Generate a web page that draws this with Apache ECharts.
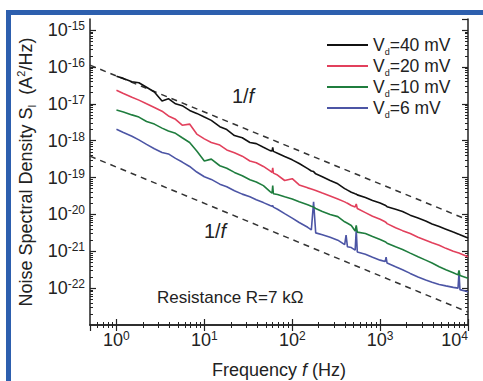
<!DOCTYPE html>
<html>
<head>
<meta charset="utf-8">
<script src="https://cdn.jsdelivr.net/npm/echarts@6/dist/echarts.min.js"></script>
<style>
html,body{margin:0;padding:0;background:#fff;}
#frame{position:absolute;left:6px;top:10px;width:477px;height:371px;border-left:5px solid #2d5fae;border-top:5px solid #2d5fae;box-sizing:border-box;}
#chart{position:absolute;left:0;top:0;width:483px;height:381px;}
</style>
</head>
<body>
<div id="frame"></div>
<div id="chart"></div>
<script>
// ---- data ----
const freqHz = [1,1.2,1.5,1.8,2.2,2.7,3.3,3.9,4.7,5.6,6.8,8.2,
  10,12,15,18,22,27,33,39,47,56,59,60,61,68,82,
  100,120,150,165,175,185,220,270,330,395,410,425,470,520,535,550,680,820,
  1000,1140,1170,1200,1500,1800,2200,2700,3300,3900,4700,5600,6800,7700,7900,8100,
  10000];
const sd40mV = [5.62e-17,4.90e-17,3.98e-17,3.72e-17,2.82e-17,2.09e-17,1.20e-17,1.38e-17,1.00e-17,8.91e-18,6.61e-18,5.50e-18,
  4.37e-18,3.55e-18,2.40e-18,2.00e-18,1.38e-18,1.20e-18,8.91e-19,8.32e-19,6.61e-19,5.37e-19,5.25e-19,6.61e-19,5.13e-19,4.57e-19,3.72e-19,
  3.02e-19,2.40e-19,1.74e-19,1.51e-19,1.45e-19,1.26e-19,1.05e-19,8.32e-20,6.76e-20,5.01e-20,4.79e-20,4.57e-20,3.98e-20,3.63e-20,3.55e-20,3.39e-20,2.88e-20,2.40e-20,
  2.04e-20,1.78e-20,1.70e-20,1.62e-20,1.38e-20,1.20e-20,9.55e-21,7.94e-21,6.61e-21,5.50e-21,4.68e-21,3.98e-21,3.31e-21,2.95e-21,2.88e-21,2.82e-21,
  2.29e-21];
const sd20mV = [2.34e-17,1.91e-17,1.51e-17,1.26e-17,1.00e-17,7.94e-18,6.31e-18,4.68e-18,3.80e-18,2.63e-18,2.82e-18,1.51e-18,
  1.12e-18,8.91e-19,7.59e-19,5.62e-19,4.68e-19,3.80e-19,2.82e-19,2.51e-19,2.00e-19,1.51e-19,1.38e-19,1.82e-19,1.32e-19,1.17e-19,8.32e-20,
  9.33e-20,6.31e-20,5.25e-20,4.90e-20,4.68e-20,4.47e-20,3.80e-20,3.16e-20,2.63e-20,2.19e-20,2.09e-20,2.00e-20,1.74e-20,1.58e-20,1.91e-20,1.45e-20,1.12e-20,8.91e-21,
  7.41e-21,6.31e-21,6.03e-21,5.62e-21,4.37e-21,3.63e-21,3.02e-21,2.40e-21,2.00e-21,1.70e-21,1.45e-21,1.20e-21,1.00e-21,9.12e-22,8.91e-22,8.71e-22,
  7.08e-22];
const sd10mV = [6.76e-18,6.03e-18,5.01e-18,4.37e-18,3.31e-18,2.82e-18,2.19e-18,1.82e-18,1.58e-18,1.20e-18,8.91e-19,5.25e-19,
  2.82e-19,3.16e-19,2.09e-19,1.78e-19,1.38e-19,1.12e-19,8.71e-20,7.59e-20,6.03e-20,4.17e-20,3.80e-20,6.03e-20,3.63e-20,3.47e-20,3.02e-20,
  2.63e-20,2.19e-20,1.82e-20,1.66e-20,1.58e-20,1.45e-20,1.20e-20,1.00e-20,8.71e-21,6.31e-21,6.03e-21,5.75e-21,5.01e-21,3.55e-21,5.01e-21,3.31e-21,3.02e-21,2.51e-21,
  2.09e-21,1.82e-21,1.74e-21,1.66e-21,1.32e-21,1.12e-21,8.91e-22,7.08e-22,5.75e-22,4.79e-22,3.80e-22,3.16e-22,2.63e-22,2.29e-22,3.02e-22,2.19e-22,
  1.86e-22];
const sd6mV = [2.04e-18,1.66e-18,1.32e-18,1.05e-18,7.94e-19,6.03e-19,4.79e-19,4.37e-19,3.31e-19,2.63e-19,2.00e-19,1.41e-19,
  1.05e-19,8.91e-20,6.61e-20,5.62e-20,4.37e-20,3.55e-20,3.02e-20,2.51e-20,2.09e-20,1.74e-20,1.66e-20,1.74e-20,1.58e-20,1.38e-20,1.05e-20,
  7.94e-21,6.03e-21,4.47e-21,3.80e-21,2.19e-20,3.16e-21,2.82e-21,2.40e-21,2.00e-21,1.51e-21,2.75e-21,1.32e-21,1.26e-21,1.07e-21,3.80e-21,9.55e-22,8.32e-22,6.92e-22,
  5.75e-22,5.25e-22,6.92e-22,4.79e-22,3.80e-22,3.16e-22,2.51e-22,2.00e-22,1.66e-22,1.45e-22,1.26e-22,1.15e-22,1.05e-22,1.00e-22,2.63e-22,9.12e-23,
  7.94e-23];
const guideFreq = [0.5, 10000];
const guideUpper = [1.12e-16, 7.08e-21];
const guideLower = [3.80e-19, 2.24e-23];
const seriesNames = ['Vd=40 mV','Vd=20 mV','Vd=10 mV','Vd=6 mV'];
const xMinorTicks = [0.6,0.7,0.8,0.9];
for (let e = 0; e <= 3; e++) for (let m = 2; m <= 9; m++) xMinorTicks.push(m * Math.pow(10, e));
const yMinorTicks = [];
for (let e = -23; e <= -16; e++) for (let m = 2; m <= 9; m++) yMinorTicks.push(m * Math.pow(10, e));

// ---- chart ----
const FONT = '"Liberation Sans", Arial, sans-serif';
const INK = '#222';
const chart = echarts.init(document.getElementById('chart'), null, {renderer: 'svg'});

function powLabel(v) {
  const l = Math.log10(v);
  const e = Math.round(l);
  if (Math.abs(l - e) > 1e-6) return '';
  return '{b|10}{s|' + e + '}';
}
const labelRich = {
  b: {fontSize: 18, lineHeight: 20, fontFamily: FONT, color: INK},
  s: {fontSize: 12, lineHeight: 12, verticalAlign: 'top', fontFamily: FONT, color: INK}
};
const lineAx = {show: true, lineStyle: {color: INK, width: 1.5}};

function axes(posA, posB, min, max, minor, nameCfg, extraLabel) {
  const base = {type: 'log', logBase: 10, min: min, max: max, splitLine: {show: false}, splitNumber: 10};
  const major = Object.assign({}, base, {
    axisLine: lineAx,
    axisTick: {show: true, inside: true, length: 6, lineStyle: {color: INK, width: 1.2}},
  });
  const minorAx = Object.assign({}, base, {
    axisLine: {show: false},
    axisTick: {show: true, inside: true, length: 3, customValues: minor, lineStyle: {color: INK, width: 1}},
    axisLabel: {show: false}
  });
  return [
    Object.assign({}, major, {position: posA, axisLabel: Object.assign({show: true, margin: 5, fontSize: 18, fontFamily: FONT, color: INK,
      showMinLabel: false, showMaxLabel: true, formatter: powLabel, rich: labelRich}, extraLabel)}, nameCfg),
    Object.assign({}, minorAx, {position: posA}),
    Object.assign({}, major, {position: posB, axisLabel: {show: false}}),
    Object.assign({}, minorAx, {position: posB})
  ];
}

const nameRich = {
  n: {fontSize: 18, lineHeight: 22, fontFamily: FONT, color: INK},
  i: {fontSize: 18, lineHeight: 22, fontStyle: 'italic', fontFamily: FONT, color: INK},
  sub: {fontSize: 10, lineHeight: 8, verticalAlign: 'bottom', fontFamily: FONT, color: INK},
  sup: {fontSize: 11, lineHeight: 11, verticalAlign: 'top', fontFamily: FONT, color: INK}
};

const xAxes = axes('bottom', 'top', 0.5, 10000, xMinorTicks, {
  name: '{n|Frequency }{i|f}{n| (Hz)}', nameLocation: 'middle', nameGap: 34,
  nameTextStyle: {fontSize: 18, fontFamily: FONT, color: INK, rich: nameRich}, nameMoveOverlap: false
}, {alignMaxLabel: 'right'});
const yAxes = axes('left', 'right', 1e-23, 2e-15, yMinorTicks, {
  name: '{n|Noise Spectral Density S}{sub|I}{n|  (A}{sup|2}{n|/Hz)}', nameLocation: 'middle', nameGap: 53,
  nameTextStyle: {fontSize: 18, fontFamily: FONT, color: INK, rich: nameRich}, nameMoveOverlap: false
}, {showMaxLabel: false});

function pairs(xs, ys) { return xs.map((x, i) => [x, ys[i]]); }
const colors = ['#111111', '#e2405c', '#1f7d3e', '#4c55a5'];
const values = [sd40mV, sd20mV, sd10mV, sd6mV];

const series = values.map((v, k) => ({
  name: seriesNames[k], type: 'line', xAxisIndex: 0, yAxisIndex: 0,
  data: pairs(freqHz, v), symbol: 'none', showSymbol: false, smooth: false,
  lineStyle: {color: colors[k], width: 1.6}, itemStyle: {color: colors[k]},
  z: 10 - k, animation: false
}));
[guideUpper, guideLower].forEach(g => series.push({
  type: 'line', xAxisIndex: 0, yAxisIndex: 0, data: pairs(guideFreq, g), symbol: 'none',
  lineStyle: {color: '#333', width: 1.5, type: [6, 5]}, z: 2, animation: false, silent: true
}));

const txt = (s, x, y, align) => ({
  type: 'text', x: x, y: y, silent: true,
  style: {text: s, textAlign: align, textVerticalAlign: 'middle', fill: INK,
    font: '17px ' + FONT,
    rich: {
      n: {fontSize: 20, fontFamily: FONT, fill: INK},
      i: {fontSize: 20, fontStyle: 'italic', fontFamily: FONT, fill: INK},
      r: {fontSize: 17, fontFamily: FONT, fill: INK}
    }}
});

chart.setOption({
  animation: false,
  backgroundColor: 'transparent',
  grid: {left: 90, right: 15, top: 19, bottom: 56, containLabel: false, outerBoundsMode: 'none'},
  xAxis: xAxes,
  yAxis: yAxes,
  legend: {
    data: seriesNames, orient: 'vertical', left: 322, top: 31,
    icon: 'rect', itemWidth: 41, itemHeight: 2, itemGap: 1, selectedMode: false,
    formatter: n => '{v|V}{d|d}{v|' + n.slice(2) + '}',
    textStyle: {fontFamily: FONT, color: INK, fontSize: 17,
      rich: {
        v: {fontSize: 17.5, lineHeight: 22, fontFamily: FONT, color: INK},
        d: {fontSize: 9, lineHeight: 7, verticalAlign: 'bottom', fontFamily: FONT, color: INK}
      }}
  },
  graphic: [
    txt('{n|1/}{i|f}', 243, 96, 'center'),
    txt('{n|1/}{i|f}', 215, 231, 'center'),
    txt('{r|Resistance R=7 k\u03A9}', 157, 297, 'left')
  ],
  series: series
});
</script>
</body>
</html>
